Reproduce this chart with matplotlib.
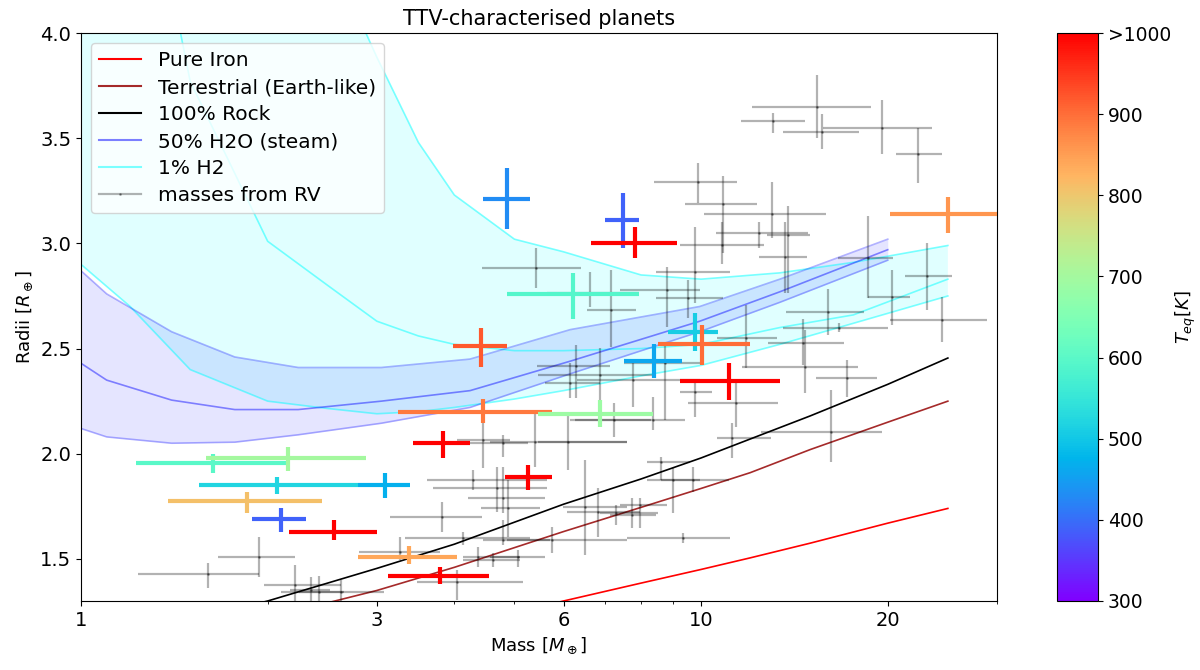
import numpy as np
import matplotlib
matplotlib.use("Agg")
import matplotlib.pyplot as plt
from matplotlib.ticker import FixedLocator, NullFormatter, FuncFormatter
from matplotlib.lines import Line2D

# ---- composition models (mass [M_earth], radius [R_earth]) ----
iron_mass = [1, 2, 4, 6, 8, 10, 12, 15, 20, 25]
iron_rad = [0.76, 0.98, 1.18, 1.30, 1.385, 1.45, 1.505, 1.575, 1.67, 1.74]

earth_mass = [1, 2, 3, 4, 6, 8, 10, 12, 15, 20, 25]
earth_rad = [1.00, 1.22, 1.35, 1.46, 1.63, 1.745, 1.835, 1.91, 2.02, 2.15, 2.25]

rock_mass = [1, 2, 3, 4, 6, 8, 10, 12, 15, 20, 25]
rock_rad = [1.08, 1.30, 1.455, 1.57, 1.76, 1.88, 1.98, 2.07, 2.18, 2.33, 2.455]

h2o_mass = [1.0, 1.1, 1.4, 1.77, 2.24, 3.05, 4.24, 6.15, 9.95, 13.4, 20]
h2o_up = [2.87, 2.76, 2.58, 2.46, 2.41, 2.41, 2.45, 2.59, 2.70, 2.83, 3.02]
h2o_mid = [2.43, 2.35, 2.255, 2.21, 2.21, 2.25, 2.30, 2.44, 2.63, 2.77, 2.97]
h2o_lo = [2.12, 2.08, 2.05, 2.055, 2.09, 2.145, 2.22, 2.38, 2.58, 2.72, 2.92]

h2_mass = [1.0, 1.2, 1.5, 2.0, 2.5, 3.0, 3.5, 4.0, 5.0, 6.0, 8.0, 10, 13.4, 17.6, 25]
h2_up = [7.5, 6.8, 6.0, 5.2, 4.4, 3.885, 3.48, 3.23, 3.02, 2.96, 2.85, 2.83, 2.86, 2.91, 2.99]
h2_mid = [6.0, 5.2, 3.77, 3.01, 2.80, 2.63, 2.56, 2.52, 2.49, 2.49, 2.50, 2.52, 2.60, 2.66, 2.83]
h2_lo = [2.90, 2.70, 2.40, 2.25, 2.215, 2.19, 2.20, 2.22, 2.26, 2.30, 2.37, 2.42, 2.52, 2.62, 2.75]

# ---- TTV planets ----
ttv_mass = [4.87, 7.48, 7.83, 6.22, 4.41, 9.78, 10.03, 8.41, 11.1, 25.0, 4.45, 6.87,
            3.83, 5.26, 1.633, 2.157, 2.071, 3.09, 1.853, 2.102, 2.559, 3.38, 3.79]
ttv_mass_lo = [4.45, 7.0, 6.64, 4.865, 3.98, 8.85, 8.51, 7.50, 9.24, 20.2, 3.246, 5.46,
               3.43, 4.83, 1.227, 1.591, 1.55, 2.797, 1.381, 1.887, 2.165, 2.797, 3.128]
ttv_mass_hi = [5.29, 7.95, 9.14, 7.95, 4.865, 10.64, 11.98, 9.31, 13.4, 30.5, 5.75, 8.37,
               4.24, 5.75, 2.141, 2.883, 2.797, 3.39, 2.447, 2.306, 3.002, 4.04, 4.55]
ttv_rad = [3.21, 3.11, 3.0, 2.76, 2.51, 2.58, 2.52, 2.44, 2.345, 3.14, 2.20, 2.19,
           2.05, 1.89, 1.955, 1.98, 1.85, 1.85, 1.775, 1.69, 1.63, 1.51, 1.42]
ttv_rad_lo = [3.07, 2.98, 2.93, 2.64, 2.41, 2.49, 2.42, 2.36, 2.255, 3.05, 2.145, 2.126,
              1.98, 1.83, 1.91, 1.92, 1.81, 1.79, 1.72, 1.63, 1.59, 1.475, 1.38]
ttv_rad_hi = [3.36, 3.24, 3.08, 2.86, 2.60, 2.67, 2.61, 2.52, 2.43, 3.22, 2.26, 2.254,
              2.11, 1.945, 2.0, 2.03, 1.89, 1.91, 1.82, 1.74, 1.685, 1.56, 1.46]
ttv_teq = [430, 390, 1100, 590, 920, 510, 900, 460, 1100, 860, 890, 690,
           1100, 1100, 600, 700, 520, 470, 810, 390, 1100, 840, 1100]

# ---- planets with RV masses ----
rv_mass = [15.4, 13.06, 15.65, 19.6, 22.4, 9.87, 10.83, 13.0, 12.4, 10.8, 13.8, 13.64,
           18.6, 20.3, 23.1, 24.5, 16.0, 16.7, 14.6, 14.7, 11.82, 17.2, 16.2, 11.2,
           11.38, 9.72, 9.34, 9.01, 8.62, 6.5, 6.82, 7.3, 7.74, 7.97, 3.823, 4.29,
           4.69, 4.79, 4.88, 4.132, 4.37, 4.79, 5.75, 4.04, 4.62, 5.07, 4.45, 4.79,
           5.40, 6.10, 5.42, 6.62, 7.16, 8.81, 9.54, 9.78, 6.29, 6.87, 6.15, 7.77,
           8.73, 8.37, 7.25, 1.94, 1.60, 2.214, 2.349, 2.421, 2.627, 3.27, 9.78]
rv_mass_lo = [12.1, 11.6, 13.55, 15.7, 20.6, 8.41, 9.42, 10.1, 10.55, 9.24, 12.75, 12.4,
              16.6, 18.6, 21.3, 20.2, 13.7, 13.55, 12.8, 11.66, 10.6, 15.3, 12.5, 10.6,
              9.54, 8.62, 7.6, 8.18, 8.18, 5.99, 6.08, 6.87, 7.13, 7.39, 3.151, 3.615,
              3.696, 4.21, 4.41, 3.332, 4.132, 4.45, 4.865, 3.482, 4.132, 4.57, 4.04, 4.06,
              4.57, 5.46, 4.435, 5.64, 6.55, 7.39, 8.45, 8.45, 5.44, 5.46, 5.60, 6.3,
              7.5, 6.15, 6.25, 1.663, 1.236, 1.973, 2.17, 2.25, 2.102, 2.81, 9.24]
rv_mass_hi = [18.8, 14.7, 18.0, 23.6, 24.5, 11.42, 12.3, 15.9, 14.9, 12.65, 15.0, 14.8,
              20.4, 21.7, 25.4, 28.9, 18.3, 20.0, 17.0, 17.9, 13.25, 19.2, 19.6, 12.95,
              13.3, 11.1, 11.12, 9.97, 9.61, 7.6, 7.97, 8.51, 8.45, 8.81, 4.435, 5.64,
              5.64, 5.60, 5.5, 5.30, 5.11, 5.71, 7.6, 5.16, 5.11, 5.6, 4.92, 5.26,
              7.6, 7.6, 6.41, 7.95, 7.85, 9.97, 10.83, 11.12, 7.13, 8.34, 6.87, 9.97,
              9.97, 9.42, 8.3, 2.214, 1.937, 2.627, 2.52, 2.66, 3.082, 3.793, 10.4]
rv_rad = [3.646, 3.58, 3.53, 3.55, 3.427, 3.29, 3.185, 3.142, 3.047, 2.99, 3.038, 2.933,
          2.929, 2.743, 2.843, 2.634, 2.672, 2.596, 2.525, 2.411, 2.549, 2.359, 2.102, 2.074,
          2.24, 1.875, 1.599, 1.875, 1.96, 1.746, 1.723, 1.718, 1.708, 1.756, 1.699, 1.875,
          1.837, 1.789, 1.742, 1.599, 1.509, 1.59, 1.59, 1.39, 1.495, 1.509, 2.064, 2.05,
          2.055, 2.055, 2.881, 2.762, 2.682, 2.777, 2.739, 2.862, 2.415, 2.373, 2.335, 2.35,
          2.43, 2.159, 2.159, 1.509, 1.428, 1.376, 1.352, 1.343, 1.343, 1.533, 2.292]
rv_rad_lo = [3.50, 3.527, 3.451, 3.423, 3.285, 3.194, 2.952, 3.024, 2.98, 2.90, 2.762, 2.762,
             2.739, 2.611, 2.682, 2.53, 2.563, 2.577, 2.42, 2.288, 2.406, 2.269, 1.96, 1.979,
             2.126, 1.818, 1.575, 1.718, 1.875, 1.518, 1.604, 1.661, 1.646, 1.646, 1.628, 1.827,
             1.723, 1.718, 1.604, 1.566, 1.461, 1.566, 1.528, 1.305, 1.461, 1.461, 1.932, 1.984,
             1.936, 1.922, 2.786, 2.696, 2.506, 2.601, 2.644, 2.715, 2.264, 2.193, 2.264, 2.221,
             2.159, 2.112, 2.079, 1.414, 1.362, 1.28, 1.28, 1.28, 1.28, 1.495, 2.174]
rv_rad_hi = [3.80, 3.622, 3.617, 3.684, 3.55, 3.38, 3.318, 3.29, 3.10, 3.10, 3.18, 3.10,
             3.128, 2.872, 3.0, 2.743, 2.781, 2.62, 2.639, 2.587, 2.706, 2.444, 2.302, 2.145,
             2.335, 1.936, 1.623, 1.932, 1.984, 1.97, 1.837, 1.756, 1.789, 1.789, 1.77, 1.922,
             1.936, 1.936, 1.875, 1.628, 1.556, 1.685, 1.651, 1.447, 1.528, 1.543, 2.193, 2.088,
             2.197, 2.183, 2.976, 2.862, 2.872, 2.886, 2.825, 3.076, 2.516, 2.501, 2.43, 2.444,
             2.525, 2.269, 2.24, 1.604, 1.48, 1.471, 1.414, 1.42, 1.40, 1.604, 2.335]

cb_ticks = [300, 400, 500, 600, 700, 800, 900, 1000]
cb_labels = ["300", "400", "500", "600", "700", "800", "900", ">1000"]

plt.rcParams['font.size'] = 13
plt.rcParams['xtick.labelsize'] = 14
plt.rcParams['ytick.labelsize'] = 14

fig = plt.figure(figsize=(12, 6.7), dpi=100)
ax = fig.add_axes([0.0675, 0.103, 0.7633, 0.8477])
cax = fig.add_axes([0.881, 0.103, 0.034, 0.8477])

cmap = plt.get_cmap('rainbow')
norm = plt.Normalize(300, 1000)

# model bands
ax.fill_between(h2_mass, h2_lo, h2_up, color='cyan', alpha=0.12, lw=0, zorder=1)
ax.plot(h2_mass, h2_up, color='cyan', alpha=0.5, lw=1.2, zorder=2)
ax.plot(h2_mass, h2_mid, color='cyan', alpha=0.5, lw=1.2, zorder=2)
ax.plot(h2_mass, h2_lo, color='cyan', alpha=0.5, lw=1.2, zorder=2)

ax.fill_between(h2o_mass, h2o_lo, h2o_up, color='blue', alpha=0.1, lw=0, zorder=1)
ax.plot(h2o_mass, h2o_up, color='blue', alpha=0.3, lw=1.2, zorder=2)
ax.plot(h2o_mass, h2o_lo, color='blue', alpha=0.3, lw=1.2, zorder=2)
ax.plot(h2o_mass, h2o_mid, color='blue', alpha=0.45, lw=1.2, zorder=2)

ax.plot(iron_mass, iron_rad, color='red', lw=1.2, zorder=3)
ax.plot(earth_mass, earth_rad, color='brown', lw=1.2, zorder=3)
ax.plot(rock_mass, rock_rad, color='black', lw=1.2, zorder=3)

# RV planets
rv_m = np.array(rv_mass)
rv_r = np.array(rv_rad)
rv_xerr = [rv_m - np.array(rv_mass_lo), np.array(rv_mass_hi) - rv_m]
rv_yerr = [rv_r - np.array(rv_rad_lo), np.array(rv_rad_hi) - rv_r]
ax.errorbar(rv_m, rv_r, xerr=rv_xerr, yerr=rv_yerr, fmt='.', color='k',
            alpha=0.3, ms=2, elinewidth=1.6, zorder=4)

# TTV planets
for i in range(len(ttv_mass)):
    c = cmap(norm(min(ttv_teq[i], 1000)))
    ax.errorbar(ttv_mass[i], ttv_rad[i],
                xerr=[[ttv_mass[i] - ttv_mass_lo[i]], [ttv_mass_hi[i] - ttv_mass[i]]],
                yerr=[[ttv_rad[i] - ttv_rad_lo[i]], [ttv_rad_hi[i] - ttv_rad[i]]],
                fmt='none', ecolor=c, elinewidth=3, zorder=5)

ax.set_xscale('log')
ax.set_xlim(1, 30)
ax.set_ylim(1.3, 4.0)
ax.xaxis.set_major_locator(FixedLocator([1, 3, 6, 10, 20]))
ax.xaxis.set_major_formatter(FuncFormatter(lambda v, p: "%g" % v))
ax.xaxis.set_minor_formatter(NullFormatter())
ax.set_yticks([1.5, 2.0, 2.5, 3.0, 3.5, 4.0])

ax.set_xlabel(r"Mass [$M_\oplus$]", fontsize=13)
ax.set_ylabel(r"Radii [$R_\oplus$]", fontsize=13)
ax.set_title("TTV-characterised planets", fontsize=15)

# legend
handles = [
    Line2D([], [], color='red', lw=1.5),
    Line2D([], [], color='brown', lw=1.5),
    Line2D([], [], color='black', lw=1.5),
    Line2D([], [], color='blue', alpha=0.5, lw=1.5),
    Line2D([], [], color='cyan', alpha=0.5, lw=1.5),
    Line2D([], [], color='k', alpha=0.3, lw=1.6, marker='.', ms=2),
]
labels = ["Pure Iron", "Terrestrial (Earth-like)", "100% Rock", "50% H2O (steam)",
          "1% H2", "masses from RV"]
ax.legend(handles, labels, loc='upper left', fontsize=14.5, labelspacing=0.4,
          handlelength=2.1)

sm = plt.cm.ScalarMappable(cmap=cmap, norm=norm)
cb = fig.colorbar(sm, cax=cax, ticks=cb_ticks)
cb.ax.set_yticklabels(cb_labels)
cb.ax.tick_params(labelsize=13.5)
cb.set_label(r"$T_{eq} [K]$", fontsize=13, labelpad=2)

plt.savefig("out.png")
